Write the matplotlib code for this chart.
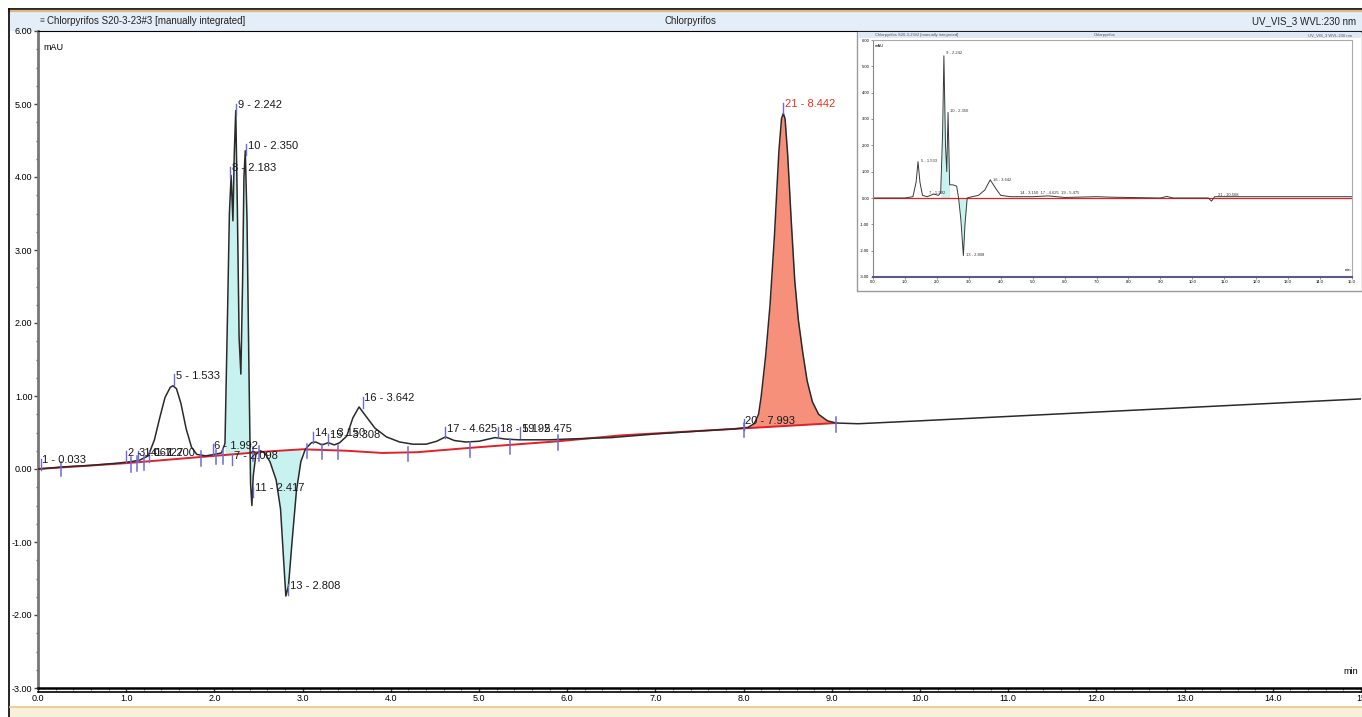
import numpy as np
import matplotlib
matplotlib.use("Agg")
import matplotlib.pyplot as plt
from matplotlib.lines import Line2D
from matplotlib.patches import Rectangle

plt.rcParams['font.family'] = ['Liberation Sans Narrow', 'Liberation Sans', 'DejaVu Sans']

# Signal (mAU) vs retention time (min)
t_sig = [0.0, 0.3, 0.6, 0.9, 1.05, 1.15, 1.25, 1.32, 1.38, 1.44, 1.50, 1.53, 1.57, 1.62, 1.68,
         1.74, 1.80, 1.90, 2.00, 2.08, 2.12, 2.15, 2.17, 2.19, 2.21, 2.225, 2.242, 2.26, 2.28,
         2.30, 2.32, 2.335, 2.35, 2.37, 2.39, 2.41, 2.425, 2.44, 2.47, 2.52, 2.57, 2.63, 2.70,
         2.75, 2.79, 2.81, 2.84, 2.88, 2.93, 2.98, 3.03, 3.10, 3.15, 3.22, 3.29, 3.36, 3.42,
         3.50, 3.57, 3.64, 3.72, 3.82, 3.95, 4.10, 4.25, 4.40, 4.52, 4.62, 4.72, 4.85, 5.00,
         5.18, 5.30, 5.45, 5.60, 5.80, 6.00, 6.50, 7.00, 7.50, 7.90, 8.05, 8.12, 8.17, 8.20,
         8.25, 8.30, 8.35, 8.40, 8.43, 8.45, 8.47, 8.50, 8.54, 8.58, 8.62, 8.67, 8.72, 8.78,
         8.85, 8.95, 9.05, 9.30, 10.0, 11.0, 12.0, 13.0, 14.0, 15.0]
v_sig = [0.00, 0.03, 0.05, 0.08, 0.10, 0.12, 0.18, 0.40, 0.70, 0.98, 1.12, 1.14, 1.10, 0.90, 0.55,
         0.30, 0.20, 0.18, 0.20, 0.22, 0.35, 2.20, 3.50, 4.02, 3.40, 4.30, 4.91, 3.60, 1.80,
         1.30, 2.60, 4.00, 4.36, 3.40, 1.50, -0.20, -0.50, -0.10, 0.20, 0.25, 0.22, 0.10, -0.15,
         -0.55, -1.35, -1.74, -1.60, -1.00, -0.30, 0.10, 0.27, 0.36, 0.37, 0.33, 0.36, 0.33, 0.36,
         0.45, 0.70, 0.85, 0.72, 0.56, 0.44, 0.37, 0.34, 0.34, 0.38, 0.44, 0.39, 0.37, 0.38,
         0.43, 0.41, 0.40, 0.40, 0.40, 0.41, 0.43, 0.48, 0.52, 0.55, 0.57, 0.62, 0.75, 1.00,
         1.55, 2.25, 3.20, 4.35, 4.80, 4.87, 4.80, 4.30, 3.40, 2.58, 2.05, 1.60, 1.21, 0.92,
         0.75, 0.66, 0.63, 0.62, 0.66, 0.72, 0.78, 0.84, 0.90, 0.96]

# Integration baseline
t_base = [0.0, 1.0, 2.0, 2.6, 3.0, 3.5, 3.9, 4.3, 4.9, 5.9, 6.6, 8.05, 9.05]
v_base = [0.0, 0.08, 0.18, 0.24, 0.27, 0.25, 0.22, 0.23, 0.29, 0.38, 0.46, 0.56, 0.63]

# Peak labels (text, retention time where label starts, height)
lbl_text = ["1 - 0.033", "2 - 1.067", "3 - 1.127", "4 - 1.200", "5 - 1.533", "6 - 1.992",
            "7 - 2.098", "8 - 2.183", "9 - 2.242", "10 - 2.350", "11 - 2.417", "13 - 2.808",
            "14 - 3.150", "15 - 3.308", "16 - 3.642", "17 - 4.625", "18 - 5.192", "19 - 5.475",
            "20 - 7.993", "21 - 8.442"]
lbl_t = [0.05, 1.02, 1.15, 1.28, 1.56, 2.00, 2.22, 2.20, 2.27, 2.38, 2.46, 2.86,
         3.14, 3.31, 3.70, 4.64, 5.24, 5.49, 8.02, 8.47]
lbl_v = [0.12, 0.22, 0.22, 0.22, 1.28, 0.32, 0.18, 4.12, 4.98, 4.43, -0.26, -1.60,
         0.49, 0.46, 0.97, 0.55, 0.55, 0.55, 0.66, 5.00]

# Peak start / end marks
mark_t = [0.26, 1.05, 1.12, 1.2, 1.85, 2.02, 2.1, 2.44, 2.5, 3.05, 3.22, 3.4, 4.2, 4.9, 5.35,
          5.9, 8.0, 9.05]

# Overview trace for the inset (other injection)
t_ins = [0.0, 1.0, 1.25, 1.35, 1.41, 1.47, 1.55, 1.7, 1.9, 2.05, 2.12, 2.18, 2.22, 2.27, 2.31,
         2.35, 2.40, 2.5, 2.62, 2.68, 2.75, 2.83, 2.88, 2.95, 3.1, 3.3, 3.5, 3.67, 3.85, 4.0,
         4.3, 5.0, 5.5, 6.0, 7.0, 7.5, 9.0, 9.2, 9.4, 10.5, 10.6, 10.7, 11.0, 15.0]
v_ins = [0.0, 0.0, 0.05, 0.6, 1.38, 0.6, 0.1, 0.05, 0.15, 0.1, 0.2, 2.5, 5.4, 2.0, 1.0,
         3.25, 0.5, 0.5, 0.45, 0.0, -0.8, -2.19, -1.0, 0.0, 0.05, 0.1, 0.3, 0.69, 0.35, 0.1,
         0.05, 0.05, 0.08, 0.02, 0.05, 0.03, 0.0, 0.06, 0.0, 0.0, -0.12, 0.05, 0.05, 0.05]
ins_lbl = ["5 - 1.533", "7 - 1.992", "9 - 2.242", "10 - 2.350", "13 - 2.808", "16 - 3.642",
           "14 - 3.150  17 - 4.625  19 - 5.475", "21 - 10.568"]
ins_lbl_t = [1.5, 1.75, 2.3, 2.4, 2.9, 3.75, 4.6, 10.8]
ins_lbl_v = [1.4, 0.2, 5.5, 3.3, -2.15, 0.7, 0.2, 0.1]

W, H = 1362, 717
fig = plt.figure(figsize=(W / 100, H / 100), dpi=100)

def fx(px):
    return px / W

def fy(py):
    return 1 - py / H

# window frame, header band, footer band (behind the axes)
fig.add_artist(Rectangle((fx(10), fy(31)), 1, fy(11) - fy(31), transform=fig.transFigure,
                         facecolor='#e4eef9', edgecolor='none', zorder=-2))
fig.add_artist(Line2D([fx(9), 1], [fy(9), fy(9)], transform=fig.transFigure, color='black', lw=1.2, zorder=-1))
fig.add_artist(Line2D([fx(9), 1], [fy(11), fy(11)], transform=fig.transFigure, color='#e2b57c', lw=1.6, zorder=-1))
fig.add_artist(Line2D([fx(9), fx(9)], [0, fy(9)], transform=fig.transFigure, color='black', lw=1.2, zorder=-1))
fig.add_artist(Rectangle((fx(10), 0), 1, fy(707), transform=fig.transFigure,
                         facecolor='#f8f0d8', edgecolor='none', zorder=-2))
fig.add_artist(Line2D([fx(10), 1], [fy(707), fy(707)], transform=fig.transFigure, color='#e6c88a', lw=1.2, zorder=-1))

fig.text(fx(47), fy(21), "Chlorpyrifos S20-3-23#3 [manually integrated]", fontsize=7,
         va='center', ha='left', color='#222222')
fig.text(fx(40), fy(21), "\u2261", fontsize=6, va='center', ha='left', color='#555555')
fig.text(fx(690), fy(21), "Chlorpyrifos", fontsize=7, va='center', ha='center', color='#222222')
fig.text(fx(1356), fy(21), "UV_VIS_3 WVL:230 nm", fontsize=7, va='center', ha='right', color='#222222')

# main axes
ax = fig.add_axes([fx(38), fy(688), fx(1361) - fx(38), fy(31) - fy(688)])
ax.patch.set_alpha(0)
ax.set_xlim(0, 15)
ax.set_ylim(-3, 6)

tb = np.array(t_sig)
vs = np.array(v_sig)
vb = np.interp(tb, t_base, v_base)

m1 = (tb >= 2.12) & (tb <= 2.44)
m2 = (tb >= 2.63) & (tb <= 2.98)
m3 = (tb >= 8.05) & (tb <= 9.05)
ax.fill_between(tb, vb, vs, where=m1, color='#c8f2f0', lw=0)
ax.fill_between(tb, vb, vs, where=m2, color='#c8f2f0', lw=0)
ax.fill_between(tb, vb, vs, where=m3, color='#f7907a', lw=0)

ax.plot(t_base, v_base, color='#e0202a', lw=1.4, zorder=3)
ax.plot(t_sig, v_sig, color='#2a2a2a', lw=1.1, zorder=4)

for t in mark_t:
    y0 = np.interp(t, t_base, v_base)
    ax.plot([t, t], [y0 - 0.12, y0 + 0.08], color='#6b6bd8', lw=1.1, zorder=5)

for s, t, v in zip(lbl_text, lbl_t, lbl_v):
    col = '#e8321e' if s.startswith("21") else '#1a1a1a'
    ax.plot([t - 0.02, t - 0.02], [v - 0.13, v + 0.02], color='#6b6bd8', lw=1.0, zorder=5)
    ax.text(t, v, s, fontsize=8, color=col, va='center', ha='left', zorder=6)

ax.text(0.004, 0.982, "mAU", transform=ax.transAxes, fontsize=6.5, va='top', ha='left')
ax.text(0.998, 0.018, "min", transform=ax.transAxes, fontsize=6.5, va='bottom', ha='right')

ax.set_yticks(np.arange(-3, 6.01, 1.0))
ax.set_yticks(np.arange(-3, 6.01, 0.25), minor=True)
ax.set_yticklabels(["%.2f" % v for v in np.arange(-3, 6.01, 1.0)], fontsize=6.5)
ax.set_xticks(np.arange(0, 15.01, 1.0))
ax.set_xticks(np.arange(0, 15.01, 0.2), minor=True)
ax.set_xticklabels(["%.1f" % v if v < 15 else "15" for v in np.arange(0, 15.01, 1.0)], fontsize=6.5)
ax.tick_params(axis='y', which='major', length=3, width=1.0, color='#444444', pad=1)
ax.tick_params(axis='y', which='minor', length=1.5, width=1.0, color='#666666')
ax.tick_params(axis='x', which='major', length=3, width=1.0, color='#444444', pad=1.5)
ax.tick_params(axis='x', which='minor', length=1.5, width=0.8, color='#666666')
ax.spines['right'].set_visible(False)
ax.spines['top'].set_color('black')
ax.spines['left'].set_color('#777777')
ax.spines['left'].set_linewidth(2.0)
ax.spines['bottom'].set_linewidth(1.8)
fig.add_artist(Line2D([fx(38), 1], [fy(692), fy(692)], transform=fig.transFigure, color='black', lw=1.2))

# inset panel
fig.add_artist(Rectangle((fx(857), fy(291)), fx(1362) - fx(857), fy(32) - fy(291),
                         transform=fig.transFigure, facecolor='white', edgecolor='#9a9a9a', lw=1.0, zorder=9))
fig.add_artist(Rectangle((fx(858), fy(38)), fx(1361) - fx(858), fy(32) - fy(38),
                         transform=fig.transFigure, facecolor='#dfe9f5', edgecolor='none', zorder=9))
fig.text(fx(875), fy(35), "Chlorpyrifos S20-3-23#2 [manually integrated]", fontsize=3, va='center',
         ha='left', color='#555555', zorder=10)
fig.text(fx(1105), fy(35), "Chlorpyrifos", fontsize=3, va='center', ha='center', color='#555555', zorder=10)
fig.text(fx(1352), fy(35), "UV_VIS_3 WVL:230 nm", fontsize=3, va='center', ha='right', color='#555555', zorder=10)

axi = fig.add_axes([fx(873), fy(277), fx(1352) - fx(873), fy(40) - fy(277)], zorder=10)
axi.set_xlim(0, 15)
axi.set_ylim(-3, 6)
ti = np.array(t_ins)
vi = np.array(v_ins)
axi.fill_between(ti, 0, vi, where=(ti >= 2.12) & (ti <= 2.40), color='#c8f2f0', lw=0)
axi.fill_between(ti, 0, vi, where=(ti >= 2.68) & (ti <= 2.95), color='#c8f2f0', lw=0)
axi.axhline(0, color='#e0202a', lw=0.9)
axi.plot(t_ins, v_ins, color='#3a3a3a', lw=0.7)
for s, t, v in zip(ins_lbl, ins_lbl_t, ins_lbl_v):
    axi.text(t, v, s, fontsize=3, color='#333333', va='center', ha='left')
axi.text(0.004, 0.985, "mAU", transform=axi.transAxes, fontsize=3, va='top', ha='left')
axi.text(0.998, 0.02, "min", transform=axi.transAxes, fontsize=3, va='bottom', ha='right')
axi.set_yticks(np.arange(-3, 6.01, 1.0))
axi.set_yticklabels(["%.2f" % v for v in np.arange(-3, 6.01, 1.0)], fontsize=3)
axi.set_xticks(np.arange(0, 15.01, 1.0))
axi.set_xticklabels(["%.1f" % v for v in np.arange(0, 15.01, 1.0)], fontsize=3)
axi.tick_params(length=1.5, width=0.5, pad=1, color='#666666')
axi.spines['right'].set_color('#aaaaaa')
axi.spines['top'].set_color('#aaaaaa')
axi.spines['left'].set_color('#888888')
axi.spines['bottom'].set_color('#5a5a8a')
axi.spines['bottom'].set_linewidth(1.5)

fig.savefig("out.png", dpi=100)
